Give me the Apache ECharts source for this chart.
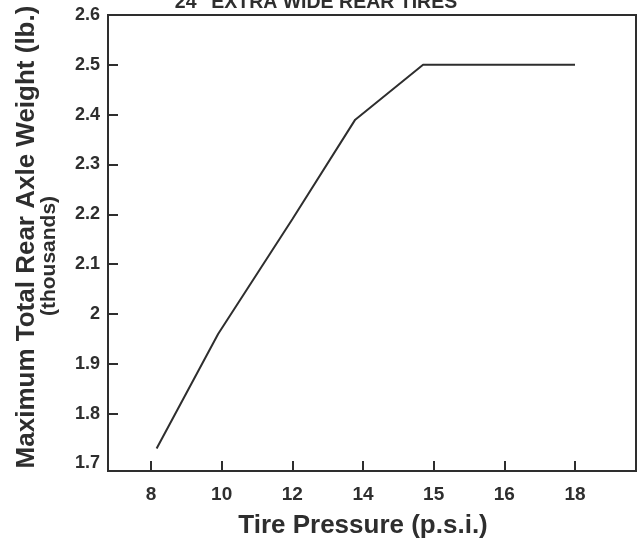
<!DOCTYPE html>
<html>
<head>
<meta charset="utf-8">
<script src="https://cdn.jsdelivr.net/npm/echarts@6/dist/echarts.min.js"></script>
<style>
html,body{margin:0;padding:0;background:#fff;}
#main{width:637px;height:542px;}
</style>
</head>
<body>
<div id="main"></div>
<script>
// Data
var pressureLabels = ['8', '10', '12', '14', '15', '16', '18'];
var pressureIndex = [0, 1, 2, 3, 4, 5, 6];
// positions of the drawn points along the (evenly spaced) pressure axis
var pointPos = [0.08, 0.95, 2, 2.89, 3.85, 5, 6];
var maxWeight = [1.73, 1.96, 2.19, 2.39, 2.5, 2.5, 2.5];
var yTicks = [1.7, 1.8, 1.9, 2, 2.1, 2.2, 2.3, 2.4, 2.5, 2.6];

var ink = '#2e2e2e';
var font = '"Liberation Sans", Arial, Helvetica, sans-serif';

var chart = echarts.init(document.getElementById('main'));
var lineData = pointPos.map(function (x, i) { return [x, maxWeight[i]]; });

chart.setOption({
  animation: false,
  backgroundColor: '#ffffff',
  title: {
    text: '24" EXTRA WIDE REAR TIRES',
    left: 311, textAlign: 'center',
    top: -12,
    textStyle: { fontFamily: font, fontWeight: 'bold', fontSize: 19.5, color: ink }
  },
  grid: {
    left: 108, right: 1, top: 15, bottom: 71,
    show: true, borderColor: ink, borderWidth: 2, backgroundColor: 'transparent'
  },
  xAxis: {
    type: 'value',
    min: -0.608, max: 6.863,
    axisLine: { show: true, onZero: false, lineStyle: { color: ink, width: 2 } },
    axisTick: { show: true, inside: true, length: 10, customValues: pressureIndex, lineStyle: { color: ink, width: 2 } },
    splitLine: { show: false },
    axisLabel: {
      customValues: pressureIndex,
      formatter: function (v) { return pressureLabels[Math.round(v)]; },
      margin: 14, fontFamily: font, fontWeight: 'bold', fontSize: 19, color: ink
    }
  },
  yAxis: {
    type: 'value',
    min: 1.685, max: 2.6,
    axisLine: { show: true, onZero: false, lineStyle: { color: ink, width: 2 } },
    axisTick: { show: true, inside: true, length: 10, customValues: yTicks.slice(1, 9), lineStyle: { color: ink, width: 2 } },
    splitLine: { show: false },
    axisLabel: {
      customValues: yTicks,
      formatter: function (v) { return String(Math.round(v * 10) / 10); },
      margin: 8, fontFamily: font, fontWeight: 'bold', fontSize: 18, color: ink
    }
  },
  graphic: [
    {
      type: 'text', x: 27, y: 237, rotation: Math.PI / 2,
      style: {
        text: 'Maximum Total Rear Axle Weight (lb.)',
        font: 'bold 26px ' + font, fill: ink,
        align: 'center', verticalAlign: 'middle'
      }
    },
    {
      type: 'text', x: 49, y: 256, rotation: Math.PI / 2,
      style: {
        text: '(thousands)',
        font: 'bold 21px ' + font, fill: ink,
        align: 'center', verticalAlign: 'middle'
      }
    },
    {
      type: 'text', x: 363, y: 526,
      style: {
        text: 'Tire Pressure (p.s.i.)',
        font: 'bold 26px ' + font, fill: ink,
        align: 'center', verticalAlign: 'middle'
      }
    }
  ],
  series: [{
    type: 'line',
    data: lineData,
    symbol: 'none',
    lineStyle: { color: ink, width: 2 },
    silent: true
  }]
});
</script>
</body>
</html>
